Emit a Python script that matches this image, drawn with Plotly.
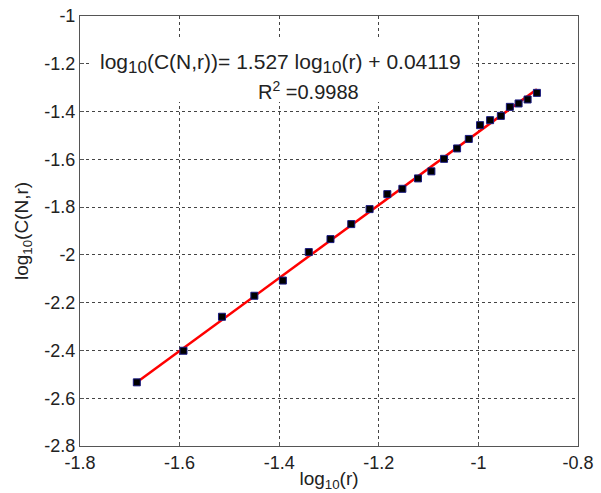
import plotly.graph_objects as go

log_r = [-1.6859, -1.5922, -1.5149, -1.4499, -1.3926, -1.3406, -1.2970, -1.2553,
         -1.2185, -1.1829, -1.1527, -1.1213, -1.0944, -1.0690, -1.0428, -1.0193,
         -0.9966, -0.9765, -0.9549, -0.9368, -0.9193, -0.9012, -0.8825]
log_c = [-2.5335, -2.4013, -2.2590, -2.1711, -2.1075, -1.9883, -1.9339, -1.8711,
         -1.8084, -1.7456, -1.7234, -1.6799, -1.6502, -1.5979, -1.5544, -1.5146,
         -1.4569, -1.4360, -1.4180, -1.3803, -1.3661, -1.3494, -1.3218]
slope = 1.527
intercept = 0.04119
r2 = 0.9988

x_ticks = [-1.8, -1.6, -1.4, -1.2, -1.0, -0.8]
x_ticklabels = ["-1.8", "-1.6", "-1.4", "-1.2", "-1", "-0.8"]
y_ticks = [-2.8, -2.6, -2.4, -2.2, -2.0, -1.8, -1.6, -1.4, -1.2, -1.0]
y_ticklabels = ["-2.8", "-2.6", "-2.4", "-2.2", "-2", "-1.8", "-1.6", "-1.4", "-1.2", "-1"]

fit_x = [min(log_r), max(log_r)]
fit_y = [slope * v + intercept for v in fit_x]

fig = go.Figure()
fig.add_trace(go.Scatter(
    x=fit_x, y=fit_y, mode="lines",
    line=dict(color="#ff0000", width=2.5), showlegend=False))
fig.add_trace(go.Scatter(
    x=log_r, y=log_c, mode="markers",
    marker=dict(symbol="square", size=7, color="#000000",
                line=dict(color="#1a1a80", width=1)),
    showlegend=False))

FAM = "Liberation Sans, Arial, sans-serif"
tick_font = dict(family=FAM, size=18, color="#222222")
title_font = dict(family=FAM, size=19, color="#222222")
eq_font = dict(family=FAM, size=21, color="#222222")
r2_font = dict(family=FAM, size=20, color="#222222")

axis_common = dict(
    showgrid=True, gridcolor="#444444", griddash="dot", gridwidth=1,
    showline=True, linecolor="#555555", linewidth=1, mirror=True,
    ticks="inside", ticklen=4, tickcolor="#555555", zeroline=False,
    tickfont=tick_font, automargin=False,
)

SUB = '<sub><span style="font-size:17px">10</span></sub>'
eq_text = f"log{SUB}(C(N,r))= {slope} log{SUB}(r) + {intercept}"
r2_text = f"R<sup>2</sup> ={r2}"

fig.update_layout(
    width=601, height=493,
    margin=dict(l=80, r=23, t=16, b=47),
    paper_bgcolor="white", plot_bgcolor="white",
    font=tick_font,
    xaxis=dict(range=[-1.8, -0.8], tickvals=x_ticks, ticktext=x_ticklabels,
               title=dict(text="log<sub>10</sub>(r)", font=title_font, standoff=0),
               **axis_common),
    yaxis=dict(range=[-2.8, -1.0], tickvals=y_ticks, ticktext=y_ticklabels,
               title=dict(text="log<sub>10</sub>(C(N,r)", font=title_font, standoff=10),
               **axis_common),
    shapes=[
        dict(type="rect", xref="x", yref="y", x0=-1.78, x1=-1.012, y0=-1.36, y1=-1.088,
             fillcolor="white", line=dict(width=0), layer="between"),
    ],
    annotations=[
        dict(x=-1.397, y=-1.2, xref="x", yref="y", showarrow=False,
             text=eq_text, font=eq_font),
        dict(x=-1.342, y=-1.31, xref="x", yref="y", showarrow=False,
             text=r2_text, font=r2_font),
    ],
)

fig.write_html("out.html")
